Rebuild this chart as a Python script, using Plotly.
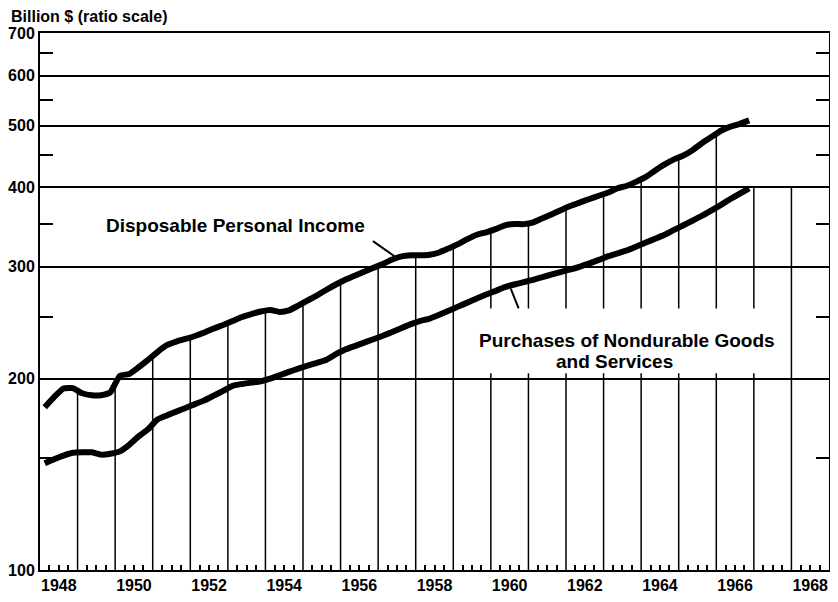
import numpy as np
import plotly.graph_objects as go

# quarterly data, billions of dollars (seasonally adjusted annual rates)
years = list(range(1948, 1967))
quarter_pos = [0.125, 0.375, 0.625, 0.875]

disposable_income = [
    180.4, 187.1, 193.0, 193.3,
    189.7, 188.3, 188.4, 190.5,
    202.1, 203.5, 208.5, 214.1,
    220.3, 225.8, 228.8, 231.0,
    233.5, 236.4, 239.9, 243.0,
    246.5, 250.1, 252.8, 255.2,
    256.6, 254.8, 256.2, 260.7,
    265.6, 270.6, 276.1, 281.4,
    286.3, 290.5, 294.7, 298.9,
    303.1, 308.0, 311.6, 312.8,
    312.8, 313.4, 316.0, 320.6,
    325.7, 331.7, 337.0, 340.0,
    343.9, 348.7, 350.5, 350.2,
    352.4, 357.8, 363.1, 368.7,
    374.2, 378.9, 383.6, 388.1,
    392.8, 398.8, 402.4, 408.5,
    415.5, 425.4, 434.8, 442.8,
    449.0, 458.2, 469.9, 480.5,
    491.2, 498.5, 503.6, 510.1,
]

nondurables_services = [
    147.2, 149.4, 151.4, 152.9,
    153.2, 153.2, 151.9, 152.4,
    153.7, 157.4, 162.3, 166.5,
    172.5, 175.1, 177.5, 179.9,
    182.4, 184.9, 188.1, 191.4,
    194.9, 196.2, 197.2, 198.1,
    200.0, 202.5, 205.0, 207.4,
    209.7, 211.9, 214.3, 218.6,
    222.3, 225.1, 227.9, 230.8,
    233.7, 236.9, 240.4, 243.8,
    246.6, 248.7, 252.1, 255.8,
    259.7, 263.5, 267.4, 271.4,
    275.0, 278.7, 281.4, 283.8,
    286.2, 289.0, 291.9, 294.6,
    297.2, 300.3, 303.8, 307.6,
    311.8, 315.1, 318.5, 323.0,
    327.6, 332.2, 336.9, 342.9,
    348.7, 354.8, 361.0, 368.2,
    375.6, 383.5, 391.1, 398.6,
]

y_tick_vals = [100, 200, 300, 400, 500, 600, 700]
y_minor_vals = [150, 250, 350, 450, 550, 650]
axis_years = list(range(1948, 1969))

FONT = "Liberation Sans"

t = np.array([y + q for y in years for q in quarter_pos])
dpi = np.array(disposable_income)
pnd = np.array(nondurables_services)

# year rules run from the floor up to the income line (to 400 past the data)
bounds = np.array(axis_years[1:], dtype=float)
tops = np.where(bounds > t[-1], 400, np.interp(bounds, t, dpi))
gx, gy = [], []
for b, top in zip(bounds, tops):
    gx += [b, b, None]
    gy += [100, top, None]

fig = go.Figure()
fig.add_trace(go.Scatter(x=gx, y=gy, mode="lines",
                         line=dict(color="black", width=1.5), hoverinfo="skip"))
fig.add_trace(go.Scatter(x=t, y=dpi, mode="lines", name="Disposable Personal Income",
                         line=dict(color="black", width=6, shape="spline", smoothing=0.5)))
fig.add_trace(go.Scatter(x=t, y=pnd, mode="lines",
                         name="Purchases of Nondurable Goods and Services",
                         line=dict(color="black", width=6, shape="spline", smoothing=0.5)))

# white patch behind the lower label
fig.add_shape(type="rect", xref="x", yref="y", x0=1959.68, x1=1967.9, y0=204, y1=258,
              fillcolor="white", line_width=0, layer="above")

# annotation y on a log axis is given in log10 units
lab_font = dict(family=FONT, size=19, color="black", weight="bold")
fig.add_annotation(x=1953.2, y=np.log10(349), xref="x", yref="y",
                   text="Disposable Personal Income", showarrow=False, font=lab_font)
fig.add_annotation(x=1963.62, y=np.log10(230), xref="x", yref="y",
                   text="Purchases of Nondurable Goods", showarrow=False, font=lab_font)
fig.add_annotation(x=1963.3, y=np.log10(213), xref="x", yref="y",
                   text="and Services", showarrow=False, font=lab_font)

# leader lines
tip1 = 1957.5
fig.add_annotation(x=tip1, y=np.log10(np.interp(tip1, t, dpi)), text=" ", showarrow=True,
                   arrowhead=0, arrowwidth=2, arrowcolor="black", ax=-27, ay=-19, standoff=3)
tip2 = 1960.5
fig.add_annotation(x=tip2, y=np.log10(np.interp(tip2, t, pnd)), text=" ", showarrow=True,
                   arrowhead=0, arrowwidth=2, arrowcolor="black", ax=12, ay=30, standoff=3)

fig.add_annotation(x=-0.0393, y=1.0298, xref="paper", yref="paper", xanchor="left",
                   yanchor="middle", text="Billion $ (ratio scale)", showarrow=False,
                   font=dict(family=FONT, size=16, color="black", weight="bold"))

tick_font = dict(family=FONT, size=16, color="black", weight="bold")
fig.update_xaxes(
    range=[1948, 1969], automargin=False,
    tickvals=[y + 0.5 for y in axis_years],
    ticktext=[str(y) if y % 2 == 0 else "" for y in axis_years],
    ticks="inside", ticklen=5, tickwidth=1.5, tickcolor="black",
    minor=dict(tickvals=[y + q for y in axis_years for q in (0.25, 0.75)],
               ticks="inside", ticklen=5, tickwidth=1.5, tickcolor="black"),
    showgrid=False, zeroline=False,
    showline=True, linewidth=2, linecolor="black", mirror=True,
    tickfont=tick_font,
)
fig.update_yaxes(
    type="log", range=[2, np.log10(700)], automargin=False,
    tickvals=y_tick_vals, ticktext=[str(v) for v in y_tick_vals],
    ticks="", showgrid=True, gridcolor="black", gridwidth=1.5,
    minor=dict(tickvals=y_minor_vals, ticks="inside", ticklen=13, tickwidth=1.5,
               tickcolor="black", showgrid=False),
    showline=True, linewidth=2, linecolor="black", mirror="allticks",
    zeroline=False, tickfont=tick_font,
)

# the page puts the plot 8px in from the top-left corner
fig.update_layout(
    width=830, height=594,
    margin=dict(l=32, r=9, t=25, b=32),
    paper_bgcolor="white", plot_bgcolor="white",
    showlegend=False,
)

fig.write_html("out.html")
